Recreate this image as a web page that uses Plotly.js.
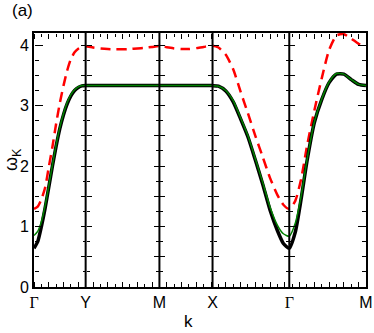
<!DOCTYPE html>
<html>
<head>
<meta charset="utf-8">
<script src="https://cdn.plot.ly/plotly-3.0.1.min.js"></script>
<style>
  html, body { margin: 0; padding: 0; background: #fff; }
  #plot { width: 374px; height: 333px; }
</style>
</head>
<body>
<div id="plot"></div>
<script>
// high-symmetry points along the path
const symLabels = ['Γ', 'Y', 'M', 'X', 'Γ', 'M'];
const symK = [0, 0.7, 1.7, 2.42, 3.46, 4.5];

// k grid
const kVals = [
  0, 0.05, 0.1, 0.15, 0.2, 0.25, 0.3, 0.35, 0.4, 0.45, 0.5, 0.55, 0.6, 0.65, 0.7,
  0.8, 0.9, 1.0, 1.1, 1.2, 1.3, 1.4, 1.5, 1.6, 1.7,
  1.8, 1.9, 2.0, 2.1, 2.2, 2.3, 2.42,
  2.5, 2.6, 2.7, 2.8, 2.9, 3.0, 3.1, 3.2, 3.3, 3.38, 3.46,
  3.54, 3.62, 3.7, 3.8, 3.9, 4.0, 4.1, 4.2, 4.3, 4.4, 4.5
];

// black curve
const omegaBlack = [
  0.64, 0.75, 1.0, 1.3, 1.65, 2.0, 2.33, 2.62, 2.85, 3.03, 3.16, 3.25, 3.3, 3.325, 3.33,
  3.33, 3.33, 3.33, 3.33, 3.33, 3.33, 3.33, 3.33, 3.33, 3.33,
  3.33, 3.33, 3.33, 3.33, 3.33, 3.33, 3.33,
  3.32, 3.24, 3.06, 2.78, 2.48, 2.1, 1.7, 1.27, 0.93, 0.72, 0.64,
  0.9, 1.45, 2.08, 2.72, 3.1, 3.38, 3.52, 3.52, 3.43, 3.35, 3.33
];

// green curve
const omegaGreen = [
  0.85, 0.92, 1.08, 1.34, 1.67, 2.02, 2.35, 2.64, 2.87, 3.05, 3.18, 3.26, 3.31, 3.33, 3.33,
  3.33, 3.33, 3.33, 3.33, 3.33, 3.33, 3.33, 3.33, 3.33, 3.33,
  3.33, 3.33, 3.33, 3.33, 3.33, 3.33, 3.33,
  3.32, 3.25, 3.08, 2.8, 2.5, 2.12, 1.73, 1.32, 1.02, 0.88, 0.84,
  1.05, 1.5, 2.1, 2.73, 3.11, 3.39, 3.53, 3.52, 3.43, 3.35, 3.33
];

// red dashed curve
const omegaRed = [
  1.29, 1.33, 1.45, 1.64, 1.98, 2.32, 2.7, 3.04, 3.33, 3.58, 3.77, 3.88, 3.94, 3.97, 3.98,
  3.96, 3.945, 3.935, 3.93, 3.93, 3.935, 3.945, 3.955, 3.97, 3.985,
  3.965, 3.945, 3.935, 3.935, 3.95, 3.97, 3.99,
  3.96, 3.84, 3.6, 3.23, 2.87, 2.5, 2.15, 1.8, 1.52, 1.36, 1.29,
  1.42, 1.78, 2.33, 2.92, 3.45, 3.92, 4.16, 4.18, 4.11, 4.02, 3.98
];

const kMax = 4.5;
const yMax = 4.2;

const traces = [
  {
    x: kVals, y: omegaRed, mode: 'lines', name: 'red',
    line: { color: '#ff0000', width: 2.5, dash: '10px,6px', shape: 'spline', smoothing: 0.6 }
  },
  {
    x: kVals, y: omegaBlack, mode: 'lines', name: 'black',
    line: { color: '#000000', width: 3.5, shape: 'spline', smoothing: 0.6 }
  },
  {
    x: kVals, y: omegaGreen, mode: 'lines', name: 'green',
    line: { color: '#008000', width: 1.5, shape: 'spline', smoothing: 0.6 }
  }
];

const layout = {
  width: 374,
  height: 333,
  margin: { l: 34, r: 8, t: 33, b: 46 },
  paper_bgcolor: '#fff',
  // transparent so the tick-only overlay axes are not hidden under it
  plot_bgcolor: 'rgba(0,0,0,0)',
  showlegend: false,
  font: { family: 'Liberation Sans, Arial, sans-serif', size: 16, color: '#000' },
  xaxis: {
    range: [0, kMax],
    tickmode: 'array',
    tickvals: symK,
    ticktext: symLabels.map(s => s === 'Γ' ? '<span style="font-family:Liberation Serif">Γ</span>' : s),
    ticks: '',
    showline: true, linewidth: 2, linecolor: '#000', mirror: true,
    showgrid: false, zeroline: false,
    tickfont: { size: 16 }
  },
  yaxis: {
    range: [0, yMax],
    tick0: 0, dtick: 1,
    ticks: '',
    showline: true, linewidth: 2, linecolor: '#000', mirror: true,
    showgrid: false, zeroline: false,
    tickfont: { size: 16 }
  },
  shapes: symK.slice(1, 5).map(k => ({
    type: 'line', xref: 'x', yref: 'paper', x0: k, x1: k, y0: 0, y1: 1,
    line: { color: '#000', width: 2 }
  })),
  annotations: [
    { text: '(a)', xref: 'paper', yref: 'paper', x: -0.036, y: 1.09, xanchor: 'center', yanchor: 'middle', showarrow: false, font: { size: 17 } },
    { text: 'ω<sub>K</sub>', xref: 'paper', yref: 'paper', x: -0.066, y: 0.5, xanchor: 'center', yanchor: 'middle', textangle: -90, showarrow: false, font: { size: 18 } },
    { text: 'k', xref: 'paper', yref: 'paper', x: 0.464, y: -0.135, xanchor: 'center', yanchor: 'middle', showarrow: false, font: { size: 17 } }
  ]
};

// tick-only axes (outside ticks on free axes, each carried by an invisible point)
function carrier(xa, ya) {
  traces.push({ x: [0], y: [0], xaxis: xa, yaxis: ya, mode: 'markers', marker: { opacity: 0 }, hoverinfo: 'skip', showlegend: false });
}

let yN = 2;
function addYTicks(pos, side, dtick, len, minorLen) {
  layout['yaxis' + yN] = {
    overlaying: 'y', anchor: 'free', position: pos, side: side,
    range: [0, yMax], tick0: 0, dtick: dtick,
    ticks: 'outside', ticklen: len, tickwidth: 1, tickcolor: '#000',
    minor: { dtick: 0.25, ticks: 'outside', ticklen: minorLen, tickwidth: 1, tickcolor: '#000' },
    showline: false, showgrid: false, zeroline: false, showticklabels: false
  };
  carrier('x', 'y' + yN);
  yN++;
}

let xN = 2;
function addXTicks(pos, side) {
  layout['xaxis' + xN] = {
    overlaying: 'x', anchor: 'free', position: pos, side: side,
    range: [0, kMax], tick0: 0, dtick: 0.2,
    ticks: 'outside', ticklen: 5, tickwidth: 1, tickcolor: '#000',
    minor: { dtick: 0.1, ticks: 'outside', ticklen: 3, tickwidth: 1, tickcolor: '#000' },
    showline: false, showgrid: false, zeroline: false, showticklabels: false
  };
  carrier('x' + xN, 'y');
  xN++;
}

// frame ticks pointing into the plot
addYTicks(0, 'right', 1, 8, 4);
addYTicks(1, 'left', 1, 8, 4);
addXTicks(0, 'top');
addXTicks(1, 'bottom');

// ticks on both sides of each interior vertical line
symK.slice(1, 5).forEach(k => {
  addYTicks(k / kMax, 'left', 0.5, 5, 3);
  addYTicks(k / kMax, 'right', 0.5, 5, 3);
});

Plotly.newPlot('plot', traces, layout, { displayModeBar: false, staticPlot: true });
</script>
</body>
</html>
